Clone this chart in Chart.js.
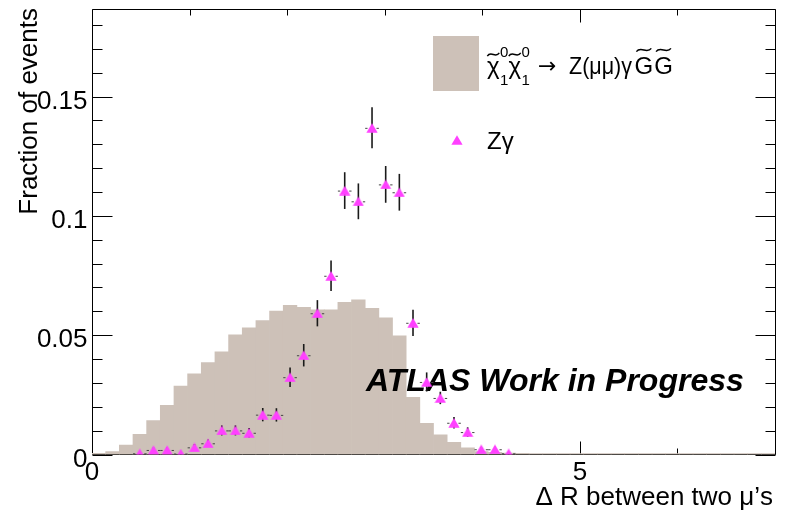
<!DOCTYPE html>
<html><head><meta charset="utf-8">
<script src="https://cdn.jsdelivr.net/npm/chart.js@4.4.1/dist/chart.umd.min.js"></script>
<style>html,body{margin:0;padding:0;background:#fff;}canvas{display:block;}</style>
</head><body>
<canvas id="c" width="786" height="514"></canvas>
<script>
// ---- data ----
const binCenters = [0.07,0.21,0.35,0.49,0.63,0.77,0.91,1.05,1.19,1.33,
  1.47,1.61,1.75,1.89,2.03,2.17,2.31,2.45,2.59,2.73,
  2.87,3.01,3.15,3.29,3.43,3.57,3.71,3.85,3.99,4.13,
  4.27,4.41,4.55,4.69,4.83,4.97,5.11,5.25,5.39,5.53,
  5.67,5.81,5.95,6.09,6.23,6.37,6.51,6.65,6.79,6.93];
const signalFraction = [0.0005,0.0012,0.0040,0.0085,0.0142,0.0206,0.0287,0.0338,0.0385,0.0430,
  0.0502,0.0531,0.0561,0.0601,0.0625,0.0617,0.0606,0.0606,0.0638,0.0648,
  0.0613,0.0573,0.0497,0.0240,0.0131,0.0082,0.0051,0.0028,0.0012,0.0009,
  0.0006,0.0005,0.0004,0.0004,0.0004,0.0004,0.0004,0.0004,0.0004,0.0004,
  0.0004,0.0004,0.0004,0.0004,0.0004,0.0004,0.0004,0.0004,0.0004,0.0004];
const zgCenters = [0.49,0.63,0.77,0.91,1.05,1.19,1.33,1.47,1.61,1.75,
  1.89,2.03,2.17,2.31,2.45,2.59,2.73,2.87,3.01,3.15,
  3.29,3.43,3.57,3.71,3.85,3.99,4.13,4.27];
const zgFraction = [0.0005,0.0019,0.0019,0.0004,0.0030,0.0047,0.0101,0.0101,0.0091,0.0167,
  0.0166,0.0324,0.0416,0.0592,0.0749,0.1106,0.1061,0.1369,0.1132,0.1099,
  0.0552,0.0304,0.0237,0.0133,0.0094,0.0022,0.0022,0.0005];
const zgError = [0.0006,0.0010,0.0010,0.0006,0.0014,0.0016,0.0021,0.0021,0.0020,0.0028,
  0.0028,0.0041,0.0047,0.0055,0.0064,0.0077,0.0075,0.0086,0.0077,0.0077,
  0.0055,0.0040,0.0026,0.0024,0.0020,0.0010,0.0010,0.0006];
const halfBinWidth = 0.07;
const xMajorTicks = [0, 5];
const xMinorTicks = [1, 2, 3, 4, 6, 7];
const xTickLabels = ["0", "5"];
const yMajorTicks = [0, 0.05, 0.1, 0.15];
const yMinorTicks = [0.01,0.02,0.03,0.04,0.06,0.07,0.08,0.09,0.11,0.12,0.13,0.14,0.16,0.17,0.18];
const yTickLabels = ["0", "0.05", "0.1", "0.15"];
const xTitle = "\u0394 R between two \u03bc\u2019s";
const yTitle = "Fraction of events";
const signalLabelPieces = ["\u03c7", "1", "0", "\u2192", "Z(\u03bc\u03bc)\u03b3", "G"];
const bkgLabel = "Z\u03b3";
const atlasText = "ATLAS Work in Progress";

// ---- styles ----
const FONT = '"Liberation Sans", Arial, Helvetica, sans-serif';
const SIG_COLOR = '#cdc1b8';
const ZG_COLOR = '#ff40ff';

function makeTriangle() {
  const c = document.createElement('canvas');
  c.width = 12; c.height = 10;
  const g = c.getContext('2d');
  g.fillStyle = ZG_COLOR;
  g.beginPath(); g.moveTo(6, 0.3); g.lineTo(11.6, 9.7); g.lineTo(0.4, 9.7); g.closePath(); g.fill();
  return c;
}
const triImg = makeTriangle();

function drawTilde(ctx, cx, cy, w, h) {
  ctx.save();
  ctx.lineWidth = 1.4; ctx.strokeStyle = '#000';
  ctx.beginPath();
  ctx.moveTo(cx - w / 2, cy + h * 0.4);
  ctx.bezierCurveTo(cx - w * 0.2, cy - h * 1.1, cx + w * 0.2, cy + h * 1.1, cx + w / 2, cy - h * 0.4);
  ctx.stroke();
  ctx.restore();
}

const rootPlugin = {
  id: 'rootPlugin',
  beforeDatasetsDraw(chart) {
    const {ctx, chartArea: a, scales: {x, y}} = chart;
    ctx.save();
    ctx.strokeStyle = '#000'; ctx.lineWidth = 1;
    const L = Math.round(a.left) + 0.5, R = Math.round(a.right) + 0.5;
    const T = Math.round(a.top) + 0.5, B = a.bottom;
    ctx.beginPath();
    ctx.moveTo(L, T); ctx.lineTo(R, T); ctx.lineTo(R, B); ctx.lineTo(L, B); ctx.closePath();
    ctx.stroke();
    ctx.beginPath();
    const xt = (v, len) => {
      const px = Math.round(x.getPixelForValue(v)) + 0.5;
      ctx.moveTo(px, B); ctx.lineTo(px, B - len);
      ctx.moveTo(px, T); ctx.lineTo(px, T + len);
    };
    xMajorTicks.forEach(v => xt(v, 13));
    xMinorTicks.forEach(v => xt(v, 6));
    const yt = (v, len) => {
      const py = Math.round(y.getPixelForValue(v)) + 0.5;
      ctx.moveTo(L, py); ctx.lineTo(L + len, py);
      ctx.moveTo(R, py); ctx.lineTo(R - len, py);
    };
    yMajorTicks.forEach(v => yt(v, 20));
    yMinorTicks.forEach(v => yt(v, 10));
    ctx.stroke();
    ctx.restore();
  },
  beforeDatasetDraw(chart, args) {
    if (args.index !== 1) return;
    const {ctx, scales: {x, y}} = chart;
    ctx.save();
    // ATLAS label (under the markers)
    ctx.fillStyle = '#000';
    ctx.font = 'italic bold 31px ' + FONT;
    const w = ctx.measureText(atlasText).width;
    const fs = 31 * 378 / w;
    ctx.font = 'italic bold ' + fs.toFixed(2) + 'px ' + FONT;
    ctx.textBaseline = 'alphabetic'; ctx.textAlign = 'left';
    ctx.fillText(atlasText, 366, 391);
    // error bars
    for (let i = 0; i < zgCenters.length; i++) {
      const px = x.getPixelForValue(zgCenters[i]);
      const py = y.getPixelForValue(zgFraction[i]);
      const yt = y.getPixelForValue(zgFraction[i] + zgError[i]);
      const yb = y.getPixelForValue(Math.max(0, zgFraction[i] - zgError[i]));
      ctx.strokeStyle = '#1a1a1a'; ctx.lineWidth = 1.6;
      ctx.beginPath(); ctx.moveTo(px, yt); ctx.lineTo(px, yb); ctx.stroke();
      const xl = x.getPixelForValue(zgCenters[i] - halfBinWidth);
      const xr = x.getPixelForValue(zgCenters[i] + halfBinWidth);
      ctx.strokeStyle = '#444'; ctx.lineWidth = 1;
      ctx.beginPath();
      ctx.moveTo(xl, py + 0.5); ctx.lineTo(px - 4.5, py + 0.5);
      ctx.moveTo(px + 4.5, py + 0.5); ctx.lineTo(xr, py + 0.5);
      ctx.stroke();
    }
    ctx.restore();
  },
  afterDraw(chart) {
    const {ctx, chartArea: a, scales: {x, y}} = chart;
    ctx.save();
    ctx.fillStyle = '#000';
    ctx.font = '26px ' + FONT;
    // y tick labels
    ctx.textAlign = 'right'; ctx.textBaseline = 'alphabetic';
    yMajorTicks.forEach((v, i) => {
      ctx.fillText(yTickLabels[i], 87.5, y.getPixelForValue(v) + 12);
    });
    // x tick labels
    ctx.textAlign = 'center';
    xMajorTicks.forEach((v, i) => {
      ctx.fillText(xTickLabels[i], x.getPixelForValue(v), 479.5);
    });
    // x title
    ctx.textAlign = 'right';
    ctx.fillText(xTitle, 773, 505);
    // y title
    ctx.save();
    ctx.translate(37, 8); ctx.rotate(-Math.PI / 2);
    ctx.textAlign = 'right';
    ctx.fillText(yTitle, 0, 0);
    ctx.restore();

    // legend: signal box
    ctx.fillStyle = SIG_COLOR;
    ctx.fillRect(433, 36, 46, 55);
    ctx.fillStyle = '#000';
    ctx.textAlign = 'left';
    const [chi, one, zero, arrow, zmm, G] = signalLabelPieces;
    const big = '24px ' + FONT, small = '15px ' + FONT;
    let cx = 487;
    for (let k = 0; k < 2; k++) {
      ctx.font = big;
      const cw = ctx.measureText(chi).width;
      ctx.fillText(chi, cx, 73.5);
      drawTilde(ctx, cx + cw / 2, 54.5, cw * 0.95, 4);
      ctx.font = small;
      ctx.fillText(zero, cx + cw + 0.5, 57);
      ctx.fillText(one, cx + cw + 0.5, 85);
      cx += cw + ctx.measureText(zero).width + 0.5;
    }
    ctx.font = '22px "DejaVu Sans", sans-serif';
    ctx.fillText(arrow, 538, 73, 20);
    ctx.font = big;
    ctx.fillText(zmm, 569, 73.5, 63);
    let gx = 634.5;
    for (let k = 0; k < 2; k++) {
      const gw = ctx.measureText(G).width;
      ctx.fillText(G, gx, 73.5);
      drawTilde(ctx, gx + gw / 2, 50, gw * 0.8, 4);
      gx += gw + 1;
    }
    // legend: Z gamma
    ctx.drawImage(triImg, 457 - 6, 140 - 5);
    ctx.font = big;
    ctx.fillText(bkgLabel, 487, 148.5);
    ctx.restore();
  }
};

new Chart(document.getElementById('c'), {
  type: 'bar',
  data: {
    datasets: [
      {
        type: 'bar',
        label: 'signal',
        data: binCenters.map((c, i) => ({x: c, y: signalFraction[i]})),
        backgroundColor: SIG_COLOR,
        borderWidth: 0,
        barPercentage: 1,
        categoryPercentage: 1,
        grouped: false,
        order: 2
      },
      {
        type: 'scatter',
        label: 'Zgamma',
        data: zgCenters.map((c, i) => ({x: c, y: zgFraction[i]})),
        pointStyle: triImg,
        pointRadius: 6,
        backgroundColor: ZG_COLOR,
        borderWidth: 0,
        order: 1
      }
    ]
  },
  options: {
    responsive: false,
    animation: false,
    devicePixelRatio: 1,
    events: [],
    layout: {padding: {left: 92, top: 9, right: 11, bottom: 59.5}},
    plugins: {legend: {display: false}, tooltip: {enabled: false}, title: {display: false}},
    scales: {
      x: {type: 'linear', min: 0, max: 7, offset: false, display: false},
      y: {type: 'linear', min: 0, max: 0.1867, display: false}
    }
  },
  plugins: [rootPlugin]
});
</script>
</body></html>
